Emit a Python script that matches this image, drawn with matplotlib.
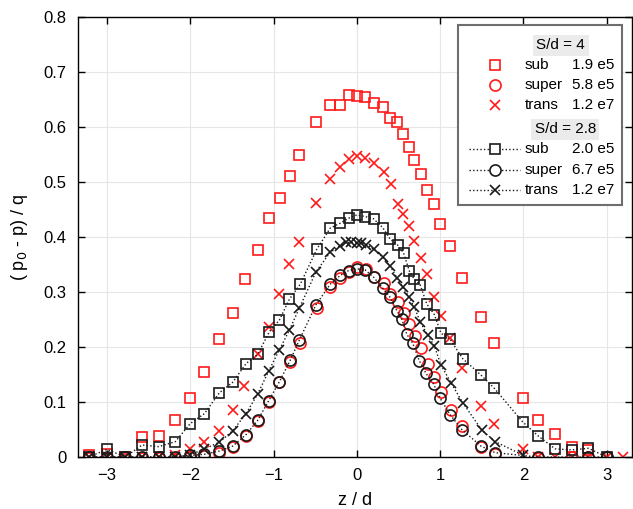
import numpy as np
import matplotlib
matplotlib.use("Agg")
import matplotlib.pyplot as plt
from matplotlib.patches import Rectangle

plt.rcParams['font.family'] = ['Liberation Sans', 'DejaVu Sans']

# S/d = 4 (red markers, no line)
x4_sub = [-3.22, -3.0, -2.78, -2.58, -2.38, -2.18, -2.0, -1.83, -1.66, -1.49, -1.34, -1.19, -1.06,
          -0.92, -0.80, -0.69, -0.49, -0.32, -0.2, -0.1, 0.0, 0.1, 0.2, 0.31, 0.40, 0.48, 0.55,
          0.62, 0.68, 0.77, 0.84, 0.92, 1.0, 1.12, 1.26, 1.49, 1.65, 1.99, 2.18, 2.38, 2.58, 2.78]
y4_sub = [0.003, 0.006, 0.0, 0.037, 0.038, 0.068, 0.107, 0.155, 0.215, 0.262, 0.323, 0.376, 0.434,
          0.471, 0.511, 0.548, 0.608, 0.640, 0.640, 0.657, 0.656, 0.655, 0.644, 0.636, 0.616, 0.609, 0.587,
          0.563, 0.539, 0.515, 0.486, 0.460, 0.423, 0.383, 0.326, 0.255, 0.208, 0.107, 0.068, 0.042, 0.019, 0.012]

x4_super = [-3.22, -3.0, -2.78, -2.58, -2.38, -2.18, -2.0, -1.83, -1.65, -1.49, -1.33, -1.19, -1.06,
            -0.93, -0.8, -0.68, -0.48, -0.32, -0.2, -0.1, 0.0, 0.11, 0.2, 0.32, 0.4, 0.49, 0.56,
            0.63, 0.7, 0.77, 0.85, 0.93, 1.01, 1.13, 1.26, 1.49, 1.66, 2.18, 2.58, 2.78, 3.0]
y4_super = [-0.002, -0.002, -0.003, -0.002, -0.002, -0.001, 0.0, 0.002, 0.007, 0.018, 0.039, 0.066, 0.100,
            0.136, 0.173, 0.208, 0.270, 0.309, 0.325, 0.336, 0.345, 0.341, 0.328, 0.316, 0.296, 0.282, 0.262,
            0.241, 0.220, 0.199, 0.170, 0.146, 0.118, 0.085, 0.057, 0.019, 0.006, -0.001, 0.0, 0.0, 0.0]

x4_trans = [-3.22, -3.0, -2.78, -2.58, -2.38, -2.18, -2.0, -1.83, -1.65, -1.49, -1.35, -1.19, -1.06,
            -0.93, -0.81, -0.69, -0.49, -0.32, -0.2, -0.1, 0.0, 0.1, 0.2, 0.32, 0.41, 0.49, 0.55,
            0.63, 0.69, 0.77, 0.84, 0.93, 1.01, 1.12, 1.26, 1.49, 1.65, 1.99, 2.18, 2.38, 2.58, 2.78, 3.0, 3.2]
y4_trans = [0.0, 0.0, 0.0, 0.0, 0.0, 0.003, 0.014, 0.027, 0.048, 0.085, 0.129, 0.187, 0.237,
            0.296, 0.350, 0.391, 0.461, 0.505, 0.527, 0.541, 0.547, 0.544, 0.534, 0.518, 0.496, 0.459, 0.442,
            0.420, 0.393, 0.362, 0.332, 0.290, 0.257, 0.217, 0.162, 0.093, 0.061, 0.014, 0.0, 0.0, 0.0, 0.0, 0.0, 0.0]

# S/d = 2.8 (black markers, dotted line)
x28_sub = [-3.22, -3.0, -2.78, -2.58, -2.38, -2.18, -2.0, -1.83, -1.65, -1.49, -1.33, -1.19, -1.05,
           -0.93, -0.81, -0.68, -0.48, -0.32, -0.2, -0.1, 0.0, 0.1, 0.2, 0.31, 0.4, 0.49, 0.56,
           0.63, 0.69, 0.76, 0.84, 0.93, 1.01, 1.12, 1.27, 1.49, 1.65, 1.99, 2.18, 2.38, 2.58, 2.78, 3.0]
y28_sub = [0.0, 0.014, 0.0, 0.022, 0.019, 0.028, 0.061, 0.079, 0.117, 0.136, 0.170, 0.187, 0.228,
           0.249, 0.287, 0.314, 0.378, 0.416, 0.425, 0.434, 0.440, 0.437, 0.433, 0.417, 0.396, 0.385, 0.371,
           0.338, 0.323, 0.313, 0.278, 0.259, 0.225, 0.214, 0.179, 0.149, 0.125, 0.064, 0.038, 0.015, 0.013, 0.016, 0.0]

x28_super = [-3.22, -3.0, -2.78, -2.58, -2.38, -2.18, -2.0, -1.83, -1.65, -1.49, -1.33, -1.19, -1.06,
             -0.93, -0.8, -0.69, -0.49, -0.32, -0.2, -0.1, 0.0, 0.1, 0.2, 0.31, 0.4, 0.48, 0.54,
             0.6, 0.67, 0.75, 0.83, 0.92, 1.0, 1.12, 1.26, 1.49, 1.66, 2.18, 2.78, 3.0]
y28_super = [0.0, 0.0, 0.0, 0.0, 0.0, 0.0, 0.003, 0.005, 0.011, 0.020, 0.041, 0.067, 0.102,
             0.137, 0.176, 0.213, 0.277, 0.314, 0.330, 0.339, 0.342, 0.340, 0.327, 0.307, 0.290, 0.266, 0.250,
             0.223, 0.207, 0.175, 0.152, 0.133, 0.107, 0.077, 0.050, 0.020, 0.008, 0.0, 0.0, 0.0]

x28_trans = [-3.22, -3.0, -2.78, -2.58, -2.38, -2.18, -2.0, -1.83, -1.65, -1.49, -1.33, -1.19, -1.06,
             -0.93, -0.81, -0.69, -0.49, -0.32, -0.2, -0.13, -0.07, 0.0, 0.05, 0.11, 0.2, 0.31, 0.4,
             0.48, 0.55, 0.63, 0.69, 0.76, 0.85, 0.93, 1.01, 1.13, 1.27, 1.5, 1.66, 1.99]
y28_trans = [0.0, 0.0, 0.0, 0.0, 0.0, 0.0, 0.004, 0.015, 0.027, 0.048, 0.079, 0.115, 0.156,
             0.195, 0.231, 0.271, 0.337, 0.372, 0.384, 0.390, 0.390, 0.389, 0.389, 0.386, 0.378, 0.363, 0.347,
             0.326, 0.309, 0.290, 0.272, 0.246, 0.221, 0.202, 0.167, 0.135, 0.099, 0.049, 0.028, 0.004]

legend4 = [("sub", "1.9 e5"), ("super", "5.8 e5"), ("trans", "1.2 e7")]
legend28 = [("sub", "2.0 e5"), ("super", "6.7 e5"), ("trans", "1.2 e7")]

red = '#ff1a1a'
blk = '#1a1a1a'
dot = (0, (1, 1.6))
sizes = {'s': 7, 'o': 8, 'x': 6.5}

fig = plt.figure(figsize=(6.33, 5.09), dpi=100)
ax = fig.add_axes([0.123, 0.102, 0.875, 0.865])

ax.plot(x4_sub, y4_sub, 's', ms=sizes['s'], mfc='none', mec=red, mew=1.2, ls='none')
ax.plot(x4_super, y4_super, 'o', ms=sizes['o'], mfc='none', mec=red, mew=1.2, ls='none')
ax.plot(x4_trans, y4_trans, 'x', ms=sizes['x'], mec=red, mew=1.2, ls='none')

ax.plot(x28_sub, y28_sub, marker='s', ms=sizes['s'], mfc='none', mec=blk, mew=1.2, color=blk, lw=1, ls=dot)
ax.plot(x28_super, y28_super, marker='o', ms=sizes['o'], mfc='none', mec=blk, mew=1.2, color=blk, lw=1, ls=dot)
ax.plot(x28_trans, y28_trans, marker='x', ms=sizes['x'], mec=blk, mew=1.2, color=blk, lw=1, ls=dot)

ax.set_xlim(-3.35, 3.3)
ax.set_ylim(0, 0.8)
ax.set_xticks(range(-3, 4))
ax.set_yticks(np.arange(0, 0.81, 0.1))
ax.set_yticklabels(['0'] + ['%.1f' % v for v in np.arange(0.1, 0.81, 0.1)])
ax.tick_params(direction='in', top=True, right=True, length=5, width=1, labelsize=12, pad=8)
ax.grid(True, color='#e6e6e6', lw=0.8)
for s in ax.spines.values():
    s.set_linewidth(1)
ax.set_xlabel('z / d', fontsize=13, labelpad=6)
ax.set_ylabel('( p$_0$ - p) / q', fontsize=13, labelpad=10)

# legend drawn by hand, in axes fractions
tr = ax.transAxes
ax.add_patch(Rectangle((0.686, 0.573), 0.296, 0.409, transform=tr, fc='white',
                       ec='#6e6e6e', lw=1.5, zorder=5))
ax.text(0.872, 0.935, 'S/d = 4', transform=tr, ha='center', va='center', fontsize=11, zorder=6,
        bbox=dict(fc='#ebebeb', ec='none', pad=2.5))
ax.text(0.880, 0.745, 'S/d = 2.8', transform=tr, ha='center', va='center', fontsize=11, zorder=6,
        bbox=dict(fc='#ebebeb', ec='none', pad=2.5))

rows4 = [0.891, 0.845, 0.800]
rows28 = [0.700, 0.652, 0.607]
for (name, val), yy, mk in zip(legend4, rows4, ['s', 'o', 'x']):
    ax.plot([0.753], [yy], marker=mk, ms=sizes[mk], mfc='none', mec=red, mew=1.2, transform=tr, zorder=6)
    ax.text(0.807, yy, name, transform=tr, va='center', fontsize=11, zorder=6)
    ax.text(0.969, yy, val, transform=tr, va='center', ha='right', fontsize=11, zorder=6)
for (name, val), yy, mk in zip(legend28, rows28, ['s', 'o', 'x']):
    ax.plot([0.706, 0.799], [yy, yy], color=blk, lw=1, ls=dot, transform=tr, zorder=6)
    ax.plot([0.753], [yy], marker=mk, ms=sizes[mk], mfc='white', mec=blk, mew=1.2, transform=tr, zorder=7)
    ax.text(0.807, yy, name, transform=tr, va='center', fontsize=11, zorder=6)
    ax.text(0.969, yy, val, transform=tr, va='center', ha='right', fontsize=11, zorder=6)

fig.savefig('out.png', dpi=100)
